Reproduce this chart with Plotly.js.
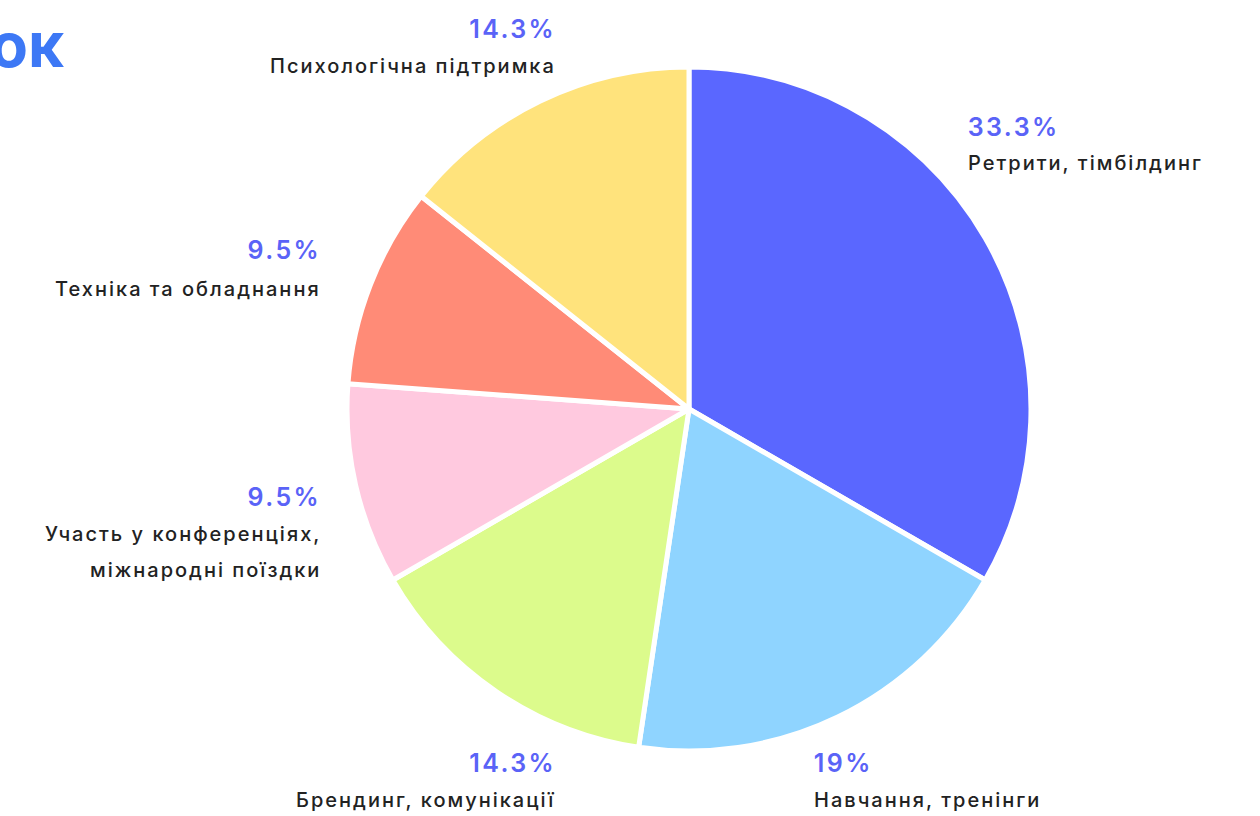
<!DOCTYPE html>
<html>
<head>
<meta charset="utf-8">
<script src="https://cdn.plot.ly/plotly-3.0.1.min.js"></script>
<style>
html,body{margin:0;padding:0;background:#fff;}
#chart{width:1260px;height:816px;}
</style>
</head>
<body>
<div id="chart"></div>
<script>
// ---- data ----
const categories = [
  "Ретрити, тімбілдинг",
  "Навчання, тренінги",
  "Брендинг, комунікації",
  "Участь у конференціях,<br>міжнародні поїздки",
  "Техніка та обладнання",
  "Психологічна підтримка"
];
const percents = [33.3, 19, 14.3, 9.5, 9.5, 14.3];
const colors = ["#5a67ff", "#8fd4ff", "#dcfb8c", "#ffc9df", "#ff8b77", "#ffe37c"];
const titleFragment = "ок";

// ---- layout helpers (pixel positions of label blocks) ----
const W = 1260, H = 816;
const labelPos = [
  {x: 967, yP: 127, yL: 163, anchor: "left"},
  {x: 813, yP: 763, yL: 800, anchor: "left"},
  {x: 557, yP: 763, yL: 800, anchor: "right"},
  {x: 322, yP: 497, yL: 534, anchor: "right"},
  {x: 322, yP: 250, yL: 289, anchor: "right"},
  {x: 557, yP: 29, yL: 66, anchor: "right"}
];
const lineGap = 36;
const cx = 689, cy = 409, R = 342;

const px = x => x / W;
const py = y => 1 - y / H;

const annotations = [];
const spacing = [];   // letter spacing per annotation (px)
categories.forEach((c, i) => {
  const p = labelPos[i];
  annotations.push({
    xref: "paper", yref: "paper", x: px(p.x), y: py(p.yP),
    xanchor: p.anchor, yanchor: "middle", showarrow: false,
    text: percents[i] + "%",
    font: {family: "Inter, 'Noto Sans', sans-serif", size: 25, color: "#5a63f7", weight: 600}
  });
  spacing.push(2.4);
  c.split("<br>").forEach((line, j) => {
    annotations.push({
      xref: "paper", yref: "paper", x: px(p.x), y: py(p.yL + j * lineGap),
      xanchor: p.anchor, yanchor: "middle", showarrow: false,
      text: line,
      font: {family: "Inter, 'Noto Sans', sans-serif", size: 20, color: "#222222", weight: 500}
    });
    spacing.push(2);
  });
});
annotations.push({
  xref: "paper", yref: "paper", x: px(66), y: py(44),
  xanchor: "right", yanchor: "middle", showarrow: false,
  text: titleFragment,
  font: {family: "Inter, 'Noto Sans', sans-serif", size: 62, color: "#3d78f5", weight: 700}
});
spacing.push(0);

const trace = {
  type: "pie",
  labels: categories,
  values: percents,
  sort: false,
  direction: "clockwise",
  rotation: 0,
  textinfo: "none",
  hoverinfo: "label+percent",
  marker: {colors: colors, line: {color: "#ffffff", width: 5}},
  domain: {x: [px(cx - R), px(cx + R)], y: [py(cy + R), py(cy - R)]},
  showlegend: false
};

Plotly.newPlot("chart", [trace], {
  width: W, height: H,
  margin: {l: 0, r: 0, t: 0, b: 0},
  paper_bgcolor: "#ffffff",
  showlegend: false,
  annotations: annotations
}, {displayModeBar: false, staticPlot: true}).then(() => {
  // widen letter spacing to approximate the reference's wide geometric typeface,
  // keeping each text's anchored edge in place
  const groups = document.querySelectorAll("#chart .annotation");
  groups.forEach((g, k) => {
    const idx = parseInt(g.getAttribute("data-index"), 10);
    const ls = spacing[idx];
    if (!ls) return;
    const t = g.querySelector("text.annotation-text");
    const before = t.getComputedTextLength();
    t.style.letterSpacing = ls + "px";
    const after = t.getComputedTextLength() - ls;
    const d = (after - before) / 2;
    const anchor = annotations[idx].xanchor;
    const x0 = parseFloat(t.getAttribute("x"));
    t.setAttribute("x", x0 + (anchor === "left" ? d : -d));
  });
});
</script>
</body>
</html>
